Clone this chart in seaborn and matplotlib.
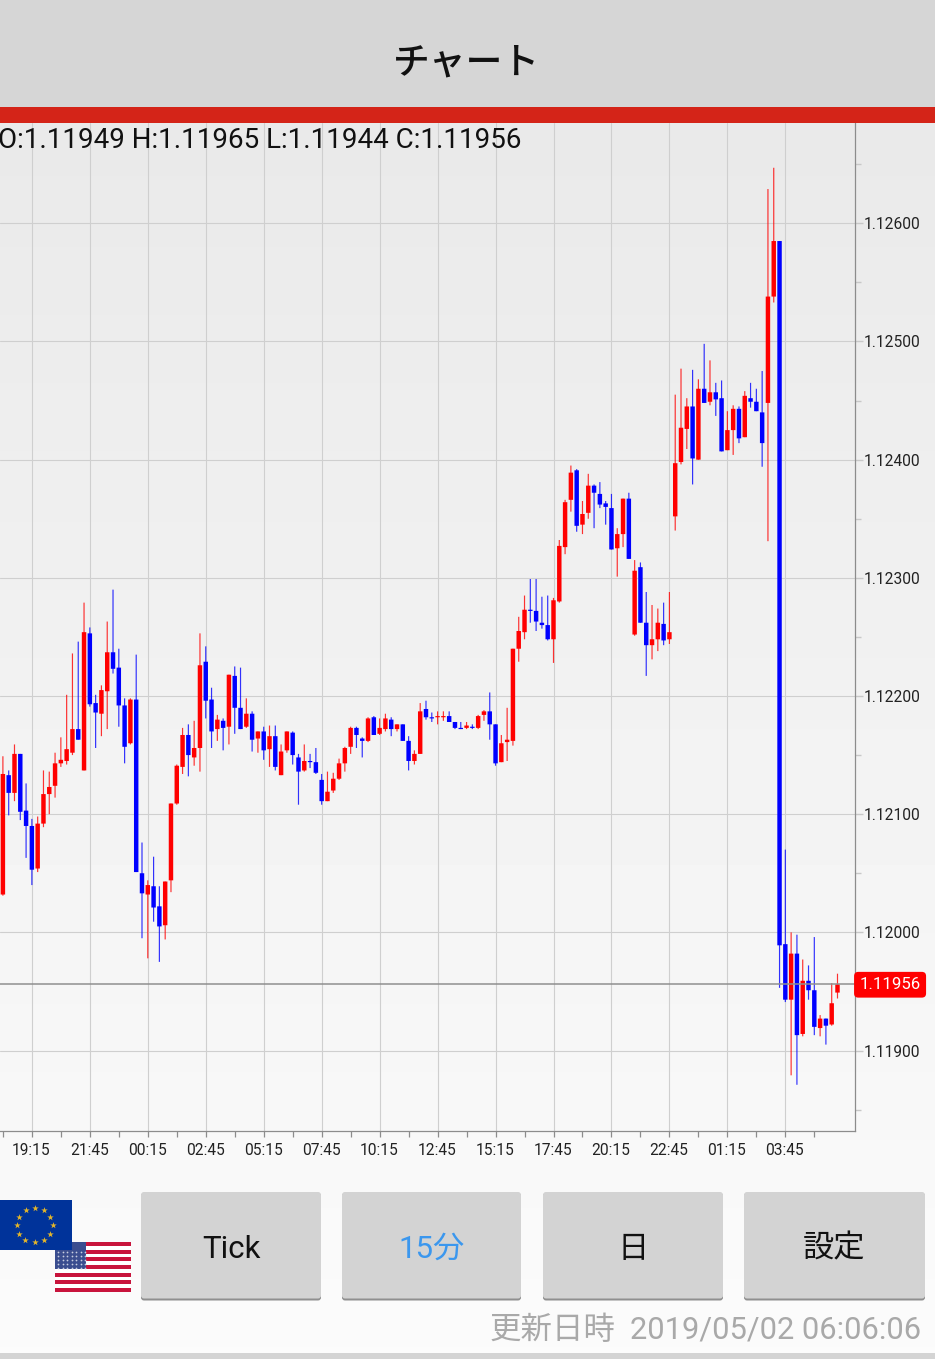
import numpy as np
import pandas as pd
import matplotlib
matplotlib.use("Agg")
import matplotlib.pyplot as plt
from matplotlib.patches import Rectangle, FancyBboxPatch
from matplotlib.transforms import ScaledTranslation
import seaborn as sns

# prices in 1e-5 units (points)
high_pts = [112149,112137,112159,112151,112126,112096,112098,112137,112136,112152,
 112165,112201,112236,112246,112279,112258,112201,112209,112263,112290,
 112240,112198,112198,112235,112076,112044,112064,112039,112043,112109,
 112142,112173,112176,112179,112253,112242,112207,112184,112181,112218,
 112225,112224,112198,112187,112170,112174,112175,112175,112159,112170,
 112170,112151,112159,112151,112156,112134,112136,112135,112147,112157,
 112174,112174,112165,112182,112183,112181,112185,112182,112176,112176,
 112166,112154,112194,112196,112186,112187,112187,112187,112178,112178,
 112178,112176,112184,112188,112203,112176,112167,112190,112240,112267,
 112285,112299,112299,112284,112285,112283,112332,112366,112395,112392,
 112365,112388,112379,112381,112365,112371,112342,112367,112372,112315,
 112313,112288,112277,112274,112279,112288,112455,112477,112452,112476,
 112468,112498,112484,112465,112467,112441,112446,112445,112458,112465,
 112460,112475,112629,112647,112585,112070,112000,111998,111977,111972,
 111996,111930,111927,111957,111965]
body_top_pts = [112134,112133,112151,112151,112103,112090,112092,112117,112123,112143,
 112146,112155,112172,112172,112254,112253,112194,112205,112237,112237,
 112224,112192,112197,112197,112050,112040,112039,112022,112043,112109,
 112141,112167,112167,112156,112226,112229,112197,112180,112179,112218,
 112217,112190,112185,112185,112170,112170,112166,112166,112153,112170,
 112169,112148,112145,112145,112144,112129,112119,112130,112143,112156,
 112173,112173,112164,112181,112182,112173,112181,112180,112176,112176,
 112162,112151,112187,112189,112182,112183,112183,112183,112178,112173,
 112175,112174,112183,112187,112187,112176,112160,112163,112240,112255,
 112273,112273,112272,112262,112260,112281,112327,112364,112389,112391,
 112354,112378,112378,112371,112363,112359,112337,112367,112367,112306,
 112309,112262,112248,112262,112261,112254,112397,112427,112445,112445,
 112460,112460,112457,112457,112452,112425,112443,112443,112454,112452,
 112449,112440,112538,112585,112585,111990,111982,111982,111959,111959,
 111951,111927,111927,111940,111956]
body_bottom_pts = [112032,112118,112118,112102,112090,112053,112054,112092,112117,112124,
 112143,112145,112152,112163,112137,112193,112186,112185,112204,112223,
 112192,112157,112160,112051,112033,112032,112021,112005,112006,112044,
 112109,112140,112150,112148,112156,112196,112170,112172,112173,112174,
 112190,112172,112174,112163,112164,112154,112155,112140,112133,112154,
 112150,112136,112137,112144,112135,112111,112111,112120,112130,112143,
 112157,112167,112162,112162,112167,112168,112172,112172,112172,112162,
 112145,112145,112151,112182,112181,112182,112182,112178,112173,112172,
 112173,112173,112173,112184,112176,112143,112144,112161,112162,112240,
 112254,112272,112263,112260,112248,112248,112280,112326,112366,112344,
 112345,112355,112372,112362,112360,112324,112325,112337,112316,112252,
 112262,112243,112243,112248,112247,112248,112352,112398,112426,112401,
 112400,112448,112449,112451,112407,112408,112425,112418,112419,112449,
 112441,112414,112448,112538,111989,111943,111943,111913,111914,111951,
 111920,111919,111921,111922,111949]
low_pts = [112031,112099,112111,112095,112063,112040,112051,112089,112100,112114,
 112140,112142,112150,112163,112137,112191,112156,112166,112172,112219,
 112174,112143,112159,112051,111995,111978,112009,111975,111994,112034,
 112108,112134,112132,112141,112136,112181,112156,112162,112154,112159,
 112168,112172,112173,112153,112152,112146,112140,112137,112133,112152,
 112142,112108,112136,112139,112134,112108,112111,112118,112129,112136,
 112151,112156,112148,112161,112167,112167,112170,112166,112170,112162,
 112137,112142,112151,112180,112178,112176,112179,112178,112172,112172,
 112172,112172,112172,112179,112163,112141,112144,112145,112158,112229,
 112248,112262,112255,112257,112247,112228,112279,112320,112356,112339,
 112337,112350,112342,112359,112345,112324,112301,112326,112316,112251,
 112262,112217,112231,112238,112243,112244,112340,112396,112409,112379,
 112400,112448,112446,112437,112407,112408,112404,112414,112419,112444,
 112441,112394,112331,112533,111953,111941,111879,111871,111912,111943,
 111913,111912,111905,111921,111944]
direction = list("RBRBBBRRRR" "RRRBRBBRRB" "BBRBBRBBRR" "RRBRRBBRBR"
                 "BBRBRBRBRR" "BBRBBBRRRR" "RBBRBRRBRB" "BRRBBRRBBB"
                 "RBRRBBRRRR" "RBBBBRRRRB" "RRBBBBRRBR" "BBRRBRRRRB"
                 "RBRBBRRBRB" "BBRRBBRBRB" "BRBRR")
time_labels = ["19:15","21:45","00:15","02:45","05:15","07:45","10:15",
               "12:45","15:15","17:45","20:15","22:45","01:15","03:45"]
price_ticks = [1.11900,1.12000,1.12100,1.12200,1.12300,1.12400,1.12500,1.12600]
minor_ticks = [1.11850,1.11950,1.12050,1.12150,1.12250,1.12350,1.12450,1.12550,1.12650]
quote = "O:1.11949 H:1.11965 L:1.11944 C:1.11956"
last_price = 1.11956
title = "チャート"
buttons = ["Tick","15分","日","設定"]
updated_label = "更新日時"
updated_time = "2019/05/02 06:06:06"

W, H = 935, 1359
sns.set_theme(style="white")
plt.rcParams['font.family'] = ['Roboto', 'Noto Sans CJK JP', 'DejaVu Sans']
CJK = ['Noto Sans CJK JP', 'DejaVu Sans']
RED, BLUE = "#ff0000", "#0000ff"

df = pd.DataFrame({"i": np.arange(len(high_pts)), "dir": direction,
                   "high": np.array(high_pts)/1e5, "top": np.array(body_top_pts)/1e5,
                   "bottom": np.array(body_bottom_pts)/1e5, "low": np.array(low_pts)/1e5})
wicks = df.melt(id_vars=["i","dir"], value_vars=["high","low"], value_name="price")
bodies = df.melt(id_vars=["i","dir"], value_vars=["top","bottom"], value_name="price")

fig = plt.figure(figsize=(W/100, H/100), dpi=100, facecolor="#fafafa")
def pxaxes(l, t, r, b, **kw):
    return fig.add_axes([l/W, 1-b/H, (r-l)/W, (b-t)/H], **kw)

# background gradient
bg = fig.add_axes([0,0,1,1], zorder=0); bg.axis("off")
grad = np.interp(np.linspace(0,1,400)[:,None], [0,1], [0.915,0.985])
bg.imshow(grad, cmap="gray", vmin=0, vmax=1, aspect="auto", extent=(0,W,1359,123))
bg.set_xlim(0,W); bg.set_ylim(H,0)

# chart
ax = pxaxes(0,122.8,855,1130.8, zorder=1, facecolor="none")
PAL = {"R":RED, "B":BLUE}
sns.lineplot(data=wicks, x="i", y="price", hue="dir", units="i", estimator=None, sort=False,
             palette=PAL, lw=0.85, alpha=0.8, legend=False, ax=ax, solid_capstyle="butt", snap=False, zorder=3)
sns.lineplot(data=bodies, x="i", y="price", hue="dir", units="i", estimator=None, sort=False,
             palette=PAL, lw=3.2, legend=False, ax=ax, solid_capstyle="butt", snap=False, zorder=4)
ax.set_xlim(-0.5, 147.02)
ax.set_ylim(1.1183205, 1.1268505)
ax.set_xlabel(""); ax.set_ylabel("")
for s in ("left","top"): ax.spines[s].set_visible(False)
for s in ("right","bottom"):
    ax.spines[s].set_visible(True); ax.spines[s].set_color("#8c8c8c"); ax.spines[s].set_linewidth(0.9)
ax.yaxis.tick_right()
ax.set_yticks(price_ticks)
ax.set_yticklabels([f"{p:.5f}" for p in price_ticks], fontsize=11.2, color="#222222")
ax.set_yticks(minor_ticks, minor=True)
ax.tick_params(axis="y", which="major", length=6, width=1, color="#c8c8c8", pad=0.2, right=True)
ax.tick_params(axis="y", which="minor", length=4.5, width=1, color="#c8c8c8", right=True)
labelled = list(range(5, 145, 10))
ax.set_xticks(labelled)
ax.set_xticklabels(time_labels, fontsize=11.2, color="#222222")
ax.set_xticks(list(range(0, 145, 10)), minor=True)
ax.tick_params(axis="x", which="major", length=4.5, width=0.9, color="#8c8c8c", pad=4.4, bottom=True)
ax.tick_params(axis="x", which="minor", length=4.5, width=0.9, color="#8c8c8c", bottom=True)
for lab in ax.get_xticklabels():
    lab.set_transform(lab.get_transform() + ScaledTranslation(-0.5/100, 0, fig.dpi_scale_trans))
ax.grid(True, which="major", color="#cfcfcf", lw=0.8, zorder=1)
ax.set_axisbelow(True)
ax.axhline(last_price, color="#8f8f8f", lw=1.1, zorder=5)
ax.annotate(f"{last_price:.5f}", xy=(1, last_price), xycoords=ax.get_yaxis_transform(),
            xytext=(3.2, -0.3), textcoords="offset points", color="white", fontsize=12.1,
            va="center", ha="left", annotation_clip=False, zorder=6,
            bbox=dict(boxstyle="round,pad=0.32,rounding_size=0.25", fc="#ff0000", ec="none"))
ax.text(-2/855, 1-(141-122.8)/1008, quote, transform=ax.transAxes, fontsize=19.95, color="#111111",
        va="center", ha="left", zorder=6)

# chrome overlay in screen pixels
ov = fig.add_axes([0,0,1,1], zorder=2, facecolor="none"); ov.axis("off")
ov.set_xlim(0,W); ov.set_ylim(H,0)
ov.add_patch(Rectangle((0,0), W, 107, fc="#d6d6d6", ec="none"))
ov.add_patch(Rectangle((0,107), W, 16, fc="#d42418", ec="none"))
ov.add_patch(Rectangle((0,1353), W, 6, fc="#d4d4d4", ec="none"))
ov.text(466, 62, title, fontsize=26.5, family=CJK, ha="center", va="center", color="#111111", weight="medium")
for (l, r), t, c in zip([(141,321),(342,521),(543,723),(744,925)], buttons,
                        ["#111111","#3b97ee","#111111","#111111"]):
    ov.add_patch(FancyBboxPatch((l,1193), r-l, 107.5, boxstyle="round,pad=0,rounding_size=3", fc="#8f8f8f", ec="none"))
    ov.add_patch(FancyBboxPatch((l,1192), r-l, 106.5, boxstyle="round,pad=0,rounding_size=3", fc="#d3d3d3", ec="none"))
    ov.text((l+r)/2, 1249, t, fontsize=22.5, family=['Roboto']+CJK, ha="center", va="center", color=c)
ov.text(615.5, 1330, updated_label, fontsize=22.65, family=CJK, ha="right", va="center", color="#a9a9a9")
ov.text(921, 1330, updated_time, fontsize=22.27, family=['Roboto'], ha="right", va="center", color="#a9a9a9")

# flags
ov.add_patch(Rectangle((55,1242), 76, 50, fc="#ffffff", ec="none", zorder=2))
for k in range(0, 13, 2):
    ov.add_patch(Rectangle((55,1242+k*50/13), 76, 50/13, fc="#c8143c", ec="none", zorder=2))
ov.add_patch(Rectangle((55,1242), 31, 27, fc="#3a4d8f", ec="none", zorder=3))
sx, sy = np.meshgrid(np.arange(58,86,4.5), np.arange(1252,1269,4))
ov.scatter(sx.ravel(), sy.ravel(), s=1.6, c="#c8cde0", lw=0, zorder=4)
ov.add_patch(Rectangle((0,1200), 72, 50, fc="#00339a", ec="none", zorder=5))
ang = np.arange(12)*np.pi/6
ov.scatter(34.5+18*np.sin(ang), 1225+17*np.cos(ang), s=24, marker="*", c="#e4b62a", lw=0, zorder=6)

fig.savefig("out.png", dpi=100)
